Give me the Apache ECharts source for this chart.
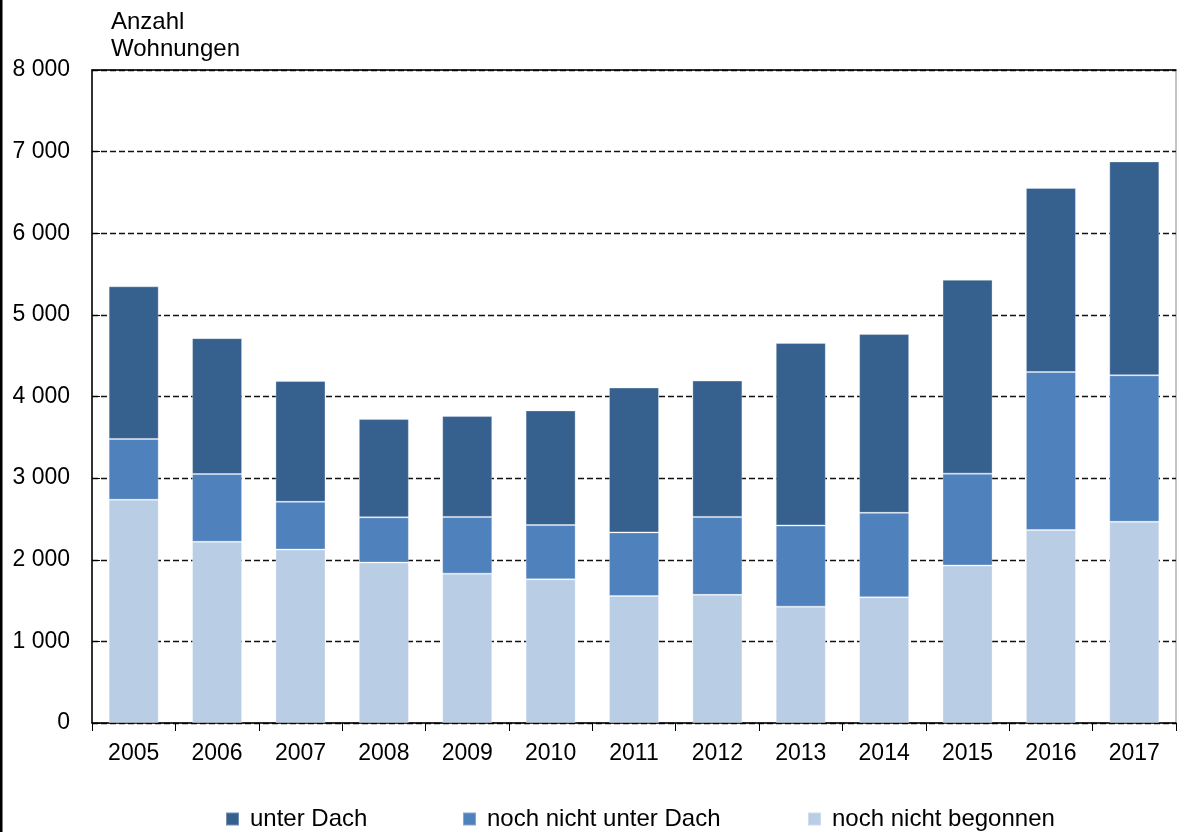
<!DOCTYPE html>
<html>
<head>
<meta charset="utf-8">
<title>Wohnungen</title>
<script src="https://cdn.jsdelivr.net/npm/echarts@6/dist/echarts.min.js"></script>
<style>
  html, body { margin: 0; padding: 0; background: #fff; }
  #chart { width: 1177px; height: 832px; }
</style>
</head>
<body>
<div id="chart"></div>
<script>
// Jahre (Kategorien)
const years = ['2005', '2006', '2007', '2008', '2009', '2010', '2011', '2012', '2013', '2014', '2015', '2016', '2017'];

// Bauüberhang nach Baufortschritt, Anzahl Wohnungen
const nochNichtBegonnen = [2735, 2220, 2125, 1965, 1830, 1760, 1555, 1570, 1425, 1540, 1930, 2365, 2465];
const nochNichtUnterDach = [745, 830, 585, 555, 695, 665, 780, 955, 995, 1035, 1125, 1935, 1795];
const unterDach = [1870, 1665, 1480, 1205, 1235, 1405, 1775, 1670, 2235, 2190, 2375, 2255, 2620];

// Achsenbeschriftung der Werteachse
const yTicks = [0, 1000, 2000, 3000, 4000, 5000, 6000, 7000, 8000];

const FONT = '"Liberation Sans", Arial, sans-serif';
const colors = {
  unterDach: '#36618f',
  nochNichtUnterDach: '#4f81bd',
  nochNichtBegonnen: '#b9cde5'
};

function fmt(v) {
  return String(v).replace(/\B(?=(\d{3})+(?!\d))/g, ' ');
}

const chart = echarts.init(document.getElementById('chart'), null, { renderer: 'canvas' });

function legendFor(name, left) {
  return {
    show: true,
    data: [name],
    left: left,
    top: 802,
    orient: 'horizontal',
    itemWidth: 13,
    itemHeight: 13,
    icon: 'rect',
    selectedMode: false,
    textStyle: { fontFamily: FONT, fontSize: 24, color: '#000', padding: [0, 0, 0, 6] }
  };
}

function barSeries(name, data, color) {
  return {
    name: name,
    type: 'bar',
    stack: 'gesamt',
    data: data,
    barWidth: '60%',
    itemStyle: { color: color, borderColor: 'rgba(255,255,255,0.3)', borderWidth: 1 },
    emphasis: { disabled: true }
  };
}

chart.setOption({
  animation: false,
  backgroundColor: '#fff',
  textStyle: { fontFamily: FONT },
  title: {
    text: 'Anzahl\nWohnungen',
    left: 106,
    top: 4,
    textStyle: { fontFamily: FONT, fontSize: 24, fontWeight: 'normal', color: '#000', lineHeight: 27 }
  },
  legend: [
    legendFor('unter Dach', 220),
    legendFor('noch nicht unter Dach', 457),
    legendFor('noch nicht begonnen', 802)
  ],
  grid: {
    left: 92,
    right: 1,
    top: 70,
    bottom: 109,
    show: true,
    borderColor: '#8c8c8c',
    borderWidth: 1,
    containLabel: false
  },
  xAxis: [
    {
      type: 'category',
      data: years,
      position: 'bottom',
      axisLine: { show: true, lineStyle: { color: '#000', width: 1.5 } },
      axisTick: { show: true, length: 8, inside: false, alignWithLabel: false, lineStyle: { color: '#000', width: 1 } },
      axisLabel: { fontFamily: FONT, fontSize: 23, color: '#000', margin: 19 },
      splitLine: { show: false }
    },
    {
      type: 'category',
      data: years,
      position: 'top',
      axisLine: { show: true, lineStyle: { color: '#000', width: 1.5 } },
      axisTick: { show: false },
      axisLabel: { show: false },
      splitLine: { show: false }
    }
  ],
  yAxis: {
    type: 'value',
    min: yTicks[0],
    max: yTicks[yTicks.length - 1],
    interval: 1000,
    axisLine: { show: true, lineStyle: { color: '#000', width: 1.5 } },
    axisTick: { show: true, inside: true, length: 8, lineStyle: { color: '#000', width: 1 } },
    axisLabel: {
      fontFamily: FONT,
      fontSize: 23,
      color: '#000',
      margin: 22,
      formatter: function (v) { return fmt(v); }
    },
    splitLine: { show: true, lineStyle: { color: '#111', width: 1.3, type: [6, 3] } }
  },
  series: [
    barSeries('noch nicht begonnen', nochNichtBegonnen, colors.nochNichtBegonnen),
    barSeries('noch nicht unter Dach', nochNichtUnterDach, colors.nochNichtUnterDach),
    barSeries('unter Dach', unterDach, colors.unterDach)
  ],
  graphic: [
    {
      type: 'rect',
      left: 0,
      top: 0,
      shape: { x: 0, y: 0, width: 2.5, height: 832 },
      style: { fill: '#000' },
      silent: true
    }
  ]
});
</script>
</body>
</html>
